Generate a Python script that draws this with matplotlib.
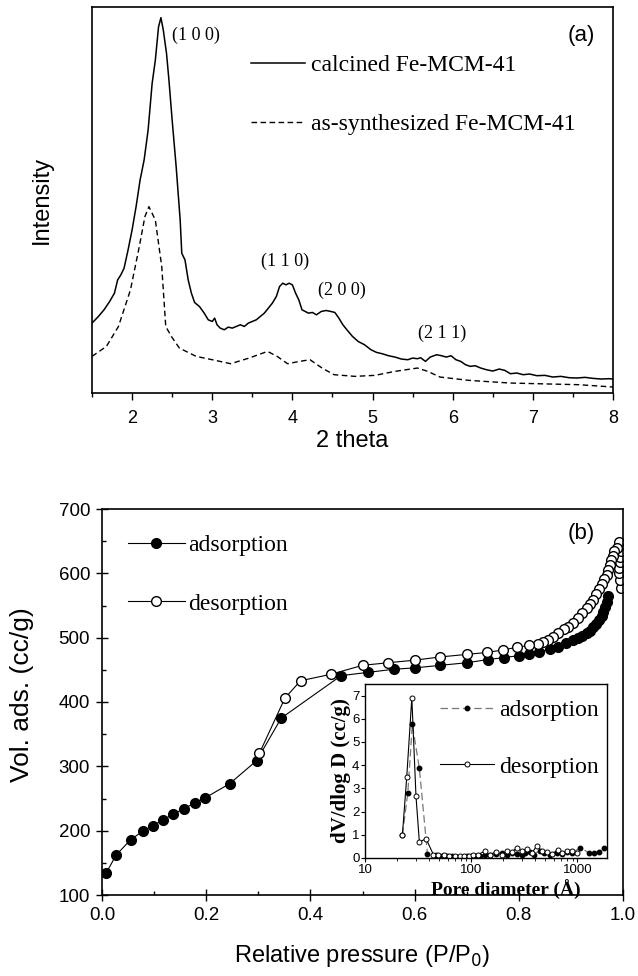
import matplotlib
matplotlib.use("Agg")
import matplotlib.pyplot as plt
from matplotlib.ticker import MultipleLocator, LogLocator, NullFormatter, FixedLocator
import numpy as np

SANS = "Liberation Sans"
SERIF = "Liberation Serif"
plt.rcParams['font.family'] = [SANS, 'DejaVu Sans']

# ---------------- Panel (a): XRD ----------------
calc_2theta = [1.50, 1.58, 1.65, 1.72, 1.78, 1.82, 1.86, 1.90, 1.95, 2.00, 2.05, 2.10, 2.15, 2.20,
               2.25, 2.29, 2.33, 2.36, 2.39, 2.43, 2.46, 2.50, 2.55, 2.60, 2.62, 2.66, 2.70, 2.74,
               2.78, 2.84, 2.90, 2.95, 3.00, 3.03, 3.06, 3.10, 3.15, 3.20, 3.25, 3.30, 3.35, 3.40,
               3.45, 3.50, 3.55, 3.60, 3.65, 3.70, 3.75, 3.80, 3.84, 3.88, 3.92, 3.96, 4.00, 4.04,
               4.08, 4.12, 4.16, 4.20, 4.25, 4.30, 4.36, 4.42, 4.48, 4.53, 4.58, 4.63, 4.68, 4.75,
               4.82, 4.90, 4.98, 5.05, 5.12, 5.20, 5.28, 5.36, 5.44, 5.50, 5.56, 5.60, 5.66, 5.72,
               5.80, 5.86, 5.92, 5.98, 6.04, 6.10, 6.16, 6.22, 6.28, 6.35, 6.42, 6.50, 6.58, 6.65,
               6.72, 6.80, 6.88, 6.96, 7.05, 7.15, 7.25, 7.35, 7.45, 7.55, 7.65, 7.75, 7.85, 7.95, 8.00]
calc_int = [210, 230, 250, 275, 300, 340, 355, 375, 430, 490, 560, 640, 700, 790,
            930, 1000, 1100, 1128, 1090, 1020, 940, 820, 680, 520, 420, 400, 340, 300,
            272, 260, 240, 220, 215, 225, 205, 195, 190, 198, 195, 200, 205, 200,
            210, 215, 220, 230, 240, 255, 270, 290, 320, 330, 325, 330, 325, 300,
            280, 250, 245, 240, 242, 235, 245, 248, 245, 242, 225, 205, 190, 170,
            155, 145, 130, 122, 118, 112, 108, 102, 100, 105, 103, 106, 95, 108,
            115, 112, 108, 112, 100, 95, 85, 80, 82, 75, 70, 66, 72, 68,
            58, 60, 55, 57, 52, 53, 48, 50, 46, 45, 47, 44, 42, 43, 42]

syn_2theta = [1.50, 1.68, 1.83, 1.98, 2.09, 2.16, 2.21, 2.29, 2.37, 2.42, 2.49, 2.59, 2.80, 3.00,
              3.23, 3.46, 3.69, 3.81, 3.94, 4.09, 4.22, 4.37, 4.52, 4.78, 5.03, 5.28, 5.56, 5.69,
              5.84, 6.20, 6.71, 7.21, 7.57, 8.00]
syn_int = [110, 140, 200, 310, 440, 530, 560, 520, 380, 200, 170, 135, 110, 100,
           88, 105, 125, 110, 88, 95, 100, 75, 55, 50, 53, 65, 75, 65,
           48, 38, 30, 27, 25, 18]

xrd_labels = ["calcined Fe-MCM-41", "as-synthesized Fe-MCM-41"]
peak_names = ["(1 0 0)", "(1 1 0)", "(2 0 0)", "(2 1 1)"]
peak_x = [2.80, 3.91, 4.62, 5.87]
peak_y = [1075, 395, 310, 180]

# ---------------- Panel (b): isotherm ----------------
ads_p = [0.008, 0.027, 0.055, 0.078, 0.098, 0.118, 0.137, 0.157, 0.178, 0.198, 0.245, 0.297,
         0.344, 0.459, 0.510, 0.561, 0.600, 0.649, 0.700, 0.741, 0.771, 0.800, 0.820, 0.839,
         0.859, 0.875, 0.890, 0.904, 0.914, 0.922, 0.930, 0.937, 0.943, 0.949, 0.954, 0.959,
         0.962, 0.966, 0.969, 0.972]
ads_v = [134, 162, 186, 199, 208, 217, 226, 234, 243, 251, 273, 309,
         375, 441, 446, 451, 453, 457, 461, 466, 469, 472, 474, 478,
         482, 486, 491, 496, 499, 503, 507, 511, 516, 522, 527, 534,
         540, 548, 556, 564]

des_p = [0.996, 0.994, 0.993, 0.992, 0.994, 0.995, 0.996, 0.995, 0.992, 0.988, 0.983, 0.980,
         0.977, 0.975, 0.972, 0.969, 0.964, 0.960, 0.954, 0.949, 0.943, 0.937, 0.930, 0.922,
         0.914, 0.904, 0.895, 0.886, 0.876, 0.866, 0.856, 0.847, 0.837, 0.820, 0.796, 0.770,
         0.739, 0.700, 0.649, 0.600, 0.549, 0.500, 0.439, 0.381, 0.351, 0.302]
des_v = [577, 589, 600, 609, 618, 626, 634, 644, 648, 640, 634, 627,
         620, 613, 605, 597, 591, 583, 575, 568, 559, 552, 546, 539,
         530, 523, 517, 513, 508, 501, 497, 494, 490, 488, 485, 481,
         477, 474, 470, 465, 461, 457, 443, 433, 406, 320]

iso_labels = ["adsorption", "desorption"]

# ---------------- Inset: pore size distribution ----------------
psd_ads_d = [22.5, 25.3, 27.9, 32.5, 38.7, 47, 53, 59, 66, 73, 82, 91, 101, 111, 122, 135,
             151, 172, 195, 217, 242, 270, 301, 323, 355, 387, 442, 481, 556, 643, 717,
             800, 891, 1067, 1280, 1427, 1586, 1770]
psd_ads_v = [1.0, 2.81, 5.76, 3.86, 0.19, 0.12, 0.10, 0.08, 0.07, 0.06, 0.06, 0.07, 0.08, 0.10,
             0.10, 0.15, 0.12, 0.17, 0.20, 0.15, 0.20, 0.18, 0.15, 0.20, 0.25, 0.15, 0.32,
             0.22, 0.15, 0.22, 0.18, 0.25, 0.22, 0.45, 0.22, 0.20, 0.25, 0.42]
psd_des_d = [22.5, 24.7, 27.6, 30.2, 32.5, 37.6, 44, 49, 55, 62, 70, 78, 86, 95, 105, 115,
             135, 150, 170, 195, 215, 240, 270, 300, 335, 370, 415, 460, 520, 580, 650,
             720, 800, 880, 990]
psd_des_v = [1.0, 3.47, 6.90, 2.67, 0.69, 0.83, 0.15, 0.13, 0.12, 0.10, 0.09, 0.08, 0.08,
             0.10, 0.12, 0.14, 0.30, 0.12, 0.28, 0.15, 0.30, 0.25, 0.45, 0.30, 0.40, 0.20,
             0.52, 0.30, 0.25, 0.18, 0.35, 0.20, 0.30, 0.30, 0.20]

W, H = 638, 976
fig = plt.figure(figsize=(W / 100, H / 100), dpi=100)


def rect(l, t, r, b):
    return [l / W, 1 - b / H, (r - l) / W, (b - t) / H]


# ===== Panel (a) =====
ax1 = fig.add_axes(rect(92, 7, 613, 393))
ax1.plot(calc_2theta, calc_int, color='black', lw=1.1, label=xrd_labels[0])
ax1.plot(syn_2theta, syn_int, color='black', lw=1.0, ls=(0, (4, 2.5)), label=xrd_labels[1])
ax1.set_xlim(1.5, 8)
ax1.set_ylim(0, 1160)
ax1.xaxis.set_major_locator(MultipleLocator(1))
ax1.xaxis.set_minor_locator(MultipleLocator(0.5))
ax1.set_yticks([])
ax1.tick_params(axis='x', which='major', direction='out', length=5, width=1, pad=7, labelsize=13)
ax1.tick_params(axis='x', which='minor', direction='out', length=3, width=1)
for s in ax1.spines.values():
    s.set_linewidth(1.2)
for name, px, py in zip(peak_names, peak_x, peak_y):
    ax1.text(px, py, name, family=SERIF, fontsize=13, ha='center', va='center')
ax1.text(7.61, 1075, "(a)", fontsize=16, ha='center', va='center')
leg1 = ax1.legend(loc='upper left', bbox_to_anchor=(0.305, 0.877), frameon=False,
                  prop={'family': SERIF, 'size': 17}, handlelength=2.3, handletextpad=0.25,
                  labelspacing=1.6, borderpad=0, borderaxespad=0)
ax1.set_xlabel("2 theta", fontsize=17)
ax1.xaxis.set_label_coords(0.5, -0.095)
ax1.set_ylabel("Intensity", fontsize=17)
ax1.yaxis.set_label_coords(-0.075, 0.5)

# ===== Panel (b) =====
ax2 = fig.add_axes(rect(102, 509, 623, 895))
ax2.plot(ads_p, ads_v, color='black', lw=0.8, marker='o', ms=7, mfc='black', mec='black',
         label=iso_labels[0])
ax2.plot(des_p, des_v, color='black', lw=0.8, marker='o', ms=7, mfc='white', mec='black',
         mew=1.0, label=iso_labels[1])
ax2.set_xlim(0, 1.0)
ax2.set_ylim(100, 700)
ax2.xaxis.set_major_locator(MultipleLocator(0.2))
ax2.xaxis.set_minor_locator(MultipleLocator(0.1))
ax2.yaxis.set_major_locator(MultipleLocator(100))
ax2.yaxis.set_minor_locator(MultipleLocator(50))
ax2.xaxis.set_major_formatter(matplotlib.ticker.FormatStrFormatter('%.1f'))
ax2.tick_params(which='major', direction='inout', length=9, width=1, pad=4, labelsize=13.5)
ax2.tick_params(which='minor', direction='in', length=3, width=1)
for s in ax2.spines.values():
    s.set_linewidth(1.2)
ax2.text(0.92, 662, "(b)", fontsize=16, ha='center', va='center')
leg2 = ax2.legend(loc='upper left', bbox_to_anchor=(0.05, 0.934), frameon=False,
                  prop={'family': SERIF, 'size': 17}, handlelength=2.4, handletextpad=0.15,
                  labelspacing=1.57, borderpad=0, borderaxespad=0)
ax2.set_xlabel("Relative pressure (P/P$_0$)", fontsize=17)
ax2.xaxis.set_label_coords(0.5, -0.125)
ax2.set_ylabel("Vol. ads. (cc/g)", fontsize=19)
ax2.yaxis.set_label_coords(-0.13, 0.52)

# ===== Inset =====
ax3 = fig.add_axes(rect(365, 684, 607, 858))
ax3.plot(psd_ads_d, psd_ads_v, color='#777777', lw=0.9, ls=(0, (6, 3)), marker='o', ms=3.2,
         mfc='black', mec='black', label=iso_labels[0])
ax3.plot(psd_des_d, psd_des_v, color='black', lw=0.8, ls='-', marker='o', ms=3.6,
         mfc='white', mec='black', mew=0.7, label=iso_labels[1])
ax3.set_xscale('log')
ax3.set_xlim(10, 1900)
ax3.set_ylim(0, 7.5)
ax3.xaxis.set_major_locator(FixedLocator([10, 100, 1000]))
ax3.xaxis.set_major_formatter(matplotlib.ticker.FixedFormatter(["10", "100", "1000"]))
ax3.xaxis.set_minor_locator(LogLocator(base=10, subs=np.arange(2, 10)))
ax3.xaxis.set_minor_formatter(NullFormatter())
ax3.yaxis.set_major_locator(MultipleLocator(1))
ax3.tick_params(which='major', direction='out', length=3, width=0.8, pad=1, labelsize=9.5)
ax3.tick_params(which='minor', direction='out', length=2, width=0.6)
for s in ax3.spines.values():
    s.set_linewidth(1.0)
leg3 = ax3.legend(loc='upper left', bbox_to_anchor=(0.31, 0.91), frameon=False,
                  prop={'family': SERIF, 'size': 17}, handlelength=2.3, handletextpad=0.2,
                  labelspacing=1.48, borderpad=0, borderaxespad=0)
ax3.set_xlabel("Pore diameter (Å)", family=SERIF, fontweight='bold', fontsize=14, labelpad=0)
ax3.xaxis.set_label_coords(0.58, -0.125)
ax3.set_ylabel("dV/dlog D (cc/g)", family=SERIF, fontweight='bold', fontsize=15, labelpad=1)

fig.savefig("out.png", dpi=100)
